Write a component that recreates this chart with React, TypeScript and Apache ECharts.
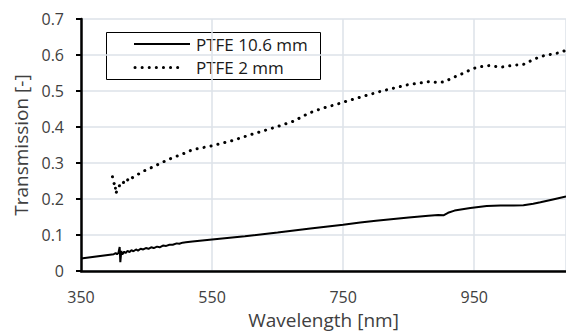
import React, { useEffect, useRef } from "react";
import * as echarts from "echarts";

const seriesNames = ["PTFE 10.6 mm", "PTFE 2 mm"];

const wavelength106 = [
  350, 400, 403, 405, 407, 409, 410, 411.5, 413, 416, 418, 421, 424, 427, 430, 434, 437, 441, 445,
  449, 453, 457, 461, 466, 470, 475, 480, 485, 490, 496, 500, 505, 510, 520, 550, 600, 650, 700, 750,
  776, 800, 850, 880, 895, 903, 910, 920, 944, 969, 990, 1010, 1025, 1040, 1051, 1070, 1090,
];
const transmission106 = [
  0.035, 0.047, 0.05, 0.047, 0.05, 0.067, 0.025, 0.056, 0.046, 0.054, 0.05, 0.056, 0.053, 0.058,
  0.055, 0.06, 0.057, 0.062, 0.06, 0.064, 0.062, 0.066, 0.064, 0.068, 0.066, 0.071, 0.07, 0.073, 0.073,
  0.077, 0.076, 0.079, 0.08, 0.082, 0.088, 0.097, 0.107, 0.118, 0.129, 0.135, 0.14, 0.149, 0.154, 0.156,
  0.155, 0.162, 0.168, 0.175, 0.181, 0.182, 0.182, 0.183, 0.187, 0.191, 0.199, 0.207,
];

const wavelength2 = [
  398, 399, 400.5, 402, 403, 405, 407, 410, 413, 416, 419, 422, 425, 428, 431, 440, 447, 456, 466, 481,
  493, 509, 520, 550, 580, 611, 644, 674, 697, 718, 740, 761, 784, 807, 827, 850, 873, 884, 894, 905,
  915, 935, 944, 954, 974, 990, 1000, 1013, 1024, 1034, 1045, 1056, 1067, 1079, 1090,
];
const transmission2 = [
  0.262, 0.25, 0.243, 0.246, 0.215, 0.223, 0.23, 0.243, 0.24, 0.25, 0.246, 0.256, 0.252, 0.259, 0.262,
  0.272, 0.279, 0.286, 0.295, 0.308, 0.317, 0.328, 0.337, 0.348, 0.362, 0.38, 0.398, 0.416, 0.438, 0.452,
  0.463, 0.475, 0.487, 0.499, 0.508, 0.518, 0.524, 0.527, 0.523, 0.526, 0.535, 0.551, 0.559, 0.566, 0.571,
  0.566, 0.569, 0.572, 0.573, 0.582, 0.591, 0.598, 0.602, 0.606, 0.613,
];

const xMin = 350;
const xMax = 1090;
const xInterval = 200;
const yMin = 0;
const yMax = 0.7;
const yInterval = 0.1;

const FONT = "Open Sans";
const DOTS: number[] = [0.1, 7];

export default function App() {
  const ref = useRef<HTMLDivElement>(null);
  useEffect(() => {
    if (!ref.current) return;
    const chart = echarts.init(ref.current, undefined, { renderer: "svg" });
    const pairs = (xs: number[], ys: number[]) => xs.map((x, i) => [x, ys[i]]);
    const legendFont = `17px "${FONT}"`;
    chart.setOption({
      animation: false,
      backgroundColor: "#fff",
      textStyle: { fontFamily: FONT },
      grid: { left: 81, right: 0, top: 19, bottom: 57, containLabel: false },
      legend: { show: false },
      graphic: [
        {
          type: "group",
          z: 100,
          children: [
            {
              type: "rect",
              shape: { x: 106.5, y: 32.5, width: 214, height: 47 },
              style: { fill: "#fff", stroke: "#000", lineWidth: 1 },
            },
            {
              type: "line",
              shape: { x1: 134, y1: 44, x2: 190, y2: 44 },
              style: { stroke: "#000", lineWidth: 2 },
            },
            {
              type: "line",
              shape: { x1: 135, y1: 67.5, x2: 181, y2: 67.5 },
              style: { stroke: "#000", lineWidth: 3, lineDash: DOTS, lineCap: "round" },
            },
            {
              type: "text",
              x: 196,
              y: 44,
              style: { text: seriesNames[0], font: legendFont, fill: "#1a1a1a", verticalAlign: "middle" },
            },
            {
              type: "text",
              x: 196,
              y: 67.5,
              style: { text: seriesNames[1], font: legendFont, fill: "#1a1a1a", verticalAlign: "middle" },
            },
          ],
        },
      ],
      xAxis: {
        type: "value",
        min: xMin,
        max: xMax,
        interval: xInterval,
        name: "Wavelength [nm]",
        nameLocation: "middle",
        nameGap: 37,
        nameTextStyle: { fontFamily: FONT, fontSize: 19, color: "#404040" },
        axisLine: { show: true, onZero: false, lineStyle: { color: "#000", width: 2.5 } },
        axisTick: { show: false },
        axisLabel: { showMaxLabel: false, margin: 18, fontFamily: FONT, fontSize: 16, color: "#404040" },
        splitLine: { show: true, lineStyle: { color: "#dde2e8", width: 1.5 } },
      },
      yAxis: {
        type: "value",
        min: yMin,
        max: yMax,
        interval: yInterval,
        name: "Transmission [-]",
        nameLocation: "middle",
        nameGap: 49,
        nameTextStyle: { fontFamily: FONT, fontSize: 19, color: "#404040" },
        axisLine: { show: true, lineStyle: { color: "#000", width: 2.5 } },
        axisTick: { show: true, inside: false, length: 5, lineStyle: { color: "#000", width: 2 } },
        axisLabel: {
          margin: 17,
          fontFamily: FONT,
          fontSize: 16,
          color: "#404040",
          formatter: (v: number) => String(Math.round(v * 10) / 10),
        },
        splitLine: { show: true, lineStyle: { color: "#dde2e8", width: 1.5 } },
      },
      series: [
        {
          name: seriesNames[0],
          type: "line",
          data: pairs(wavelength106, transmission106),
          showSymbol: false,
          symbol: "none",
          lineStyle: { color: "#000", width: 2 },
          itemStyle: { color: "#000" },
        },
        {
          name: seriesNames[1],
          type: "line",
          data: pairs(wavelength2, transmission2),
          showSymbol: false,
          symbol: "none",
          lineStyle: { color: "#000", width: 3, type: DOTS, cap: "round" },
          itemStyle: { color: "#000" },
        },
      ],
    });
    return () => chart.dispose();
  }, []);
  return (
    <div
      ref={ref}
      style={{ position: "fixed", left: 0, top: 0, width: 566, height: 334 }}
    />
  );
}
